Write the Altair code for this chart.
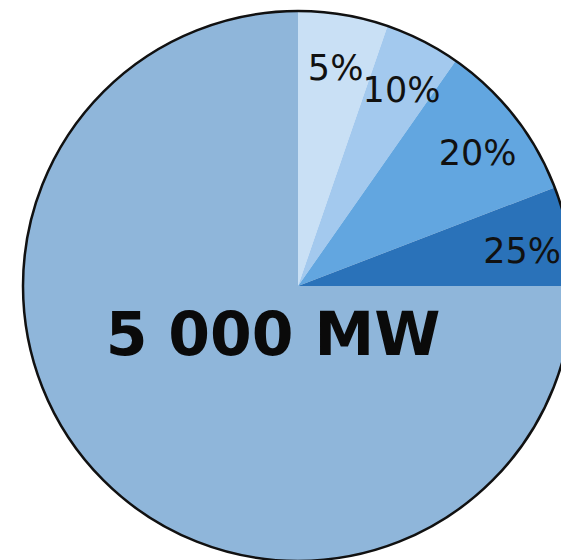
import altair as alt
import pandas as pd

labels = ["5%", "10%", "20%", "25%", "5 000 MW"]
angles = [19, 16, 34, 21, 270]   # slice sizes (degrees)
colors = ["#c9e0f5", "#a3c9ee", "#62a6e0", "#2a72b9", "#8fb6da"]

df = pd.DataFrame({"label": labels, "deg": angles, "idx": list(range(len(labels)))})

base = alt.Chart(df).encode(
    theta=alt.Theta("deg:Q", stack=True),
    order=alt.Order("idx:Q"),
)

slices = base.mark_arc(radius=275, stroke=None).encode(
    color=alt.Color("label:N", scale=alt.Scale(domain=labels, range=colors), legend=None)
)

outline = alt.Chart(df).transform_aggregate(total="sum(deg)").mark_arc(
    radius=275, filled=False, stroke="#111111", strokeWidth=2.5
).encode(theta=alt.Theta("total:Q"))

small = base.transform_calculate(
    t="datum.idx < 4 ? datum.label : ''"
).mark_text(radius=228, dy=8, fontSize=35, font="DejaVu Sans", color="#111111").encode(
    text="t:N"
)

big = base.transform_calculate(
    t="datum.idx == 4 ? datum.label : ''"
).mark_text(radius=58, dx=16, dy=10, fontSize=60, font="DejaVu Sans", fontWeight="bold",
            color="#0a0a0a").encode(text="t:N")

chart = alt.layer(slices, outline, small, big).resolve_scale(theta="independent").properties(
    width=526, height=572,
    padding={"left": 35, "top": 0, "right": 0, "bottom": 0},
    autosize=alt.AutoSizeParams(type="none"),
    background="white",
).configure_view(stroke=None)

chart.save("out.html", embed_options={"renderer": "svg", "actions": False})
